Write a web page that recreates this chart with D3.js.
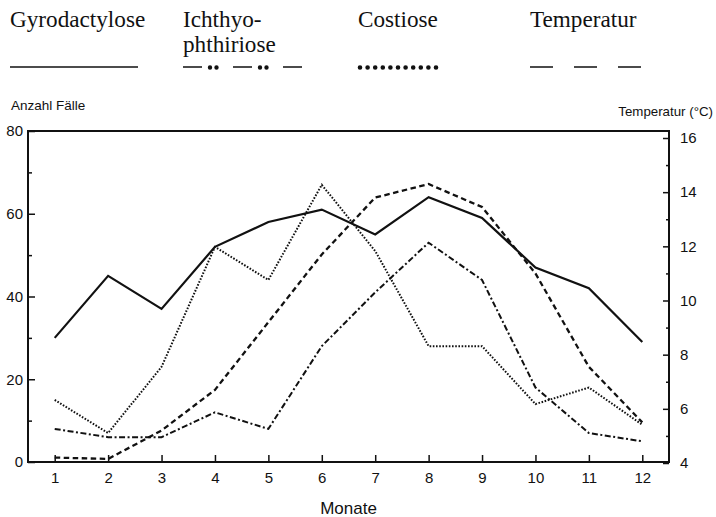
<!DOCTYPE html>
<html>
<head>
<meta charset="utf-8">
<script src="https://cdn.jsdelivr.net/npm/d3@7"></script>
<style>
  html, body { margin: 0; padding: 0; background: #fff; }
  svg { display: block; }
  .tick text { font-family: "Liberation Sans", Arial, sans-serif; font-size: 15px; fill: #111; }
</style>
</head>
<body>
<svg id="chart" width="716" height="517"></svg>
<script>
// ---- data ----
const months = [1, 2, 3, 4, 5, 6, 7, 8, 9, 10, 11, 12];
const gyrodactylose = [30, 45, 37, 52, 58, 61, 55, 64, 59, 47, 42, 29];
const ichthyophthiriose = [8, 6, 6, 12, 8, 28, 41, 53, 44, 18, 7, 5];
const costiose = [15, 7, 23, 52, 44, 67, 51, 28, 28, 14, 18, 9];
const temperatur = [4.2, 4.15, 5.2, 6.7, 9.2, 11.7, 13.8, 14.3, 13.45, 11.0, 7.55, 5.5];
const leftTicks = [0, 20, 40, 60, 80];
const leftMinor = [10, 30, 50, 70];
const rightTicks = [4, 6, 8, 10, 12, 14, 16];
const rightMinor = [5, 7, 9, 11, 13, 15];
const legendNames = [["Gyrodactylose"], ["Ichthyo-", "phthiriose"], ["Costiose"], ["Temperatur"]];

// ---- layout ----
const L = 28, R = 669, T = 131, B = 462;
const svg = d3.select("#chart");
const ink = "#111";

const x = d3.scaleLinear().domain([0.5, 12.5]).range([L, R]);
const yL = d3.scaleLinear().domain([0, 80]).range([B, T]);
const yR = d3.scaleLinear().domain([4, 16]).range([463, 138]);

// frame
svg.append("rect").attr("x", L).attr("y", T).attr("width", R - L).attr("height", B - T)
  .attr("fill", "none").attr("stroke", ink).attr("stroke-width", 2);

// axes
function styleAxis(g) {
  g.select(".domain").remove();
  g.selectAll(".tick line").attr("stroke", ink).attr("stroke-width", 1.5);
}
svg.append("g").attr("transform", `translate(${L},0)`)
  .call(d3.axisLeft(yL).tickValues(leftTicks).tickSize(-7).tickPadding(5))
  .call(styleAxis);
svg.append("g").attr("transform", `translate(${L},0)`)
  .call(d3.axisLeft(yL).tickValues(leftMinor).tickSize(-4).tickFormat(""))
  .call(styleAxis);
svg.append("g").attr("transform", `translate(${R},0)`)
  .call(d3.axisRight(yR).tickValues(rightTicks).tickSize(-6).tickPadding(11))
  .call(styleAxis);
svg.append("g").attr("transform", `translate(${R},0)`)
  .call(d3.axisRight(yR).tickValues(rightMinor).tickSize(-3).tickFormat(""))
  .call(styleAxis);
svg.append("g").attr("transform", `translate(0,${B})`)
  .call(d3.axisBottom(x).tickValues(months).tickSize(-7).tickPadding(10).tickFormat(d3.format("d")))
  .call(styleAxis);

// axis titles
const sans = "'Liberation Sans', Arial, sans-serif";
svg.append("text").attr("x", 11).attr("y", 110).attr("font-family", sans).attr("font-size", 13.5)
  .attr("fill", ink).text("Anzahl Fälle");
svg.append("text").attr("x", 713).attr("y", 116).attr("text-anchor", "end").attr("font-family", sans)
  .attr("font-size", 13.3).attr("fill", ink).text("Temperatur (°C)");
svg.append("text").attr("x", (L + R) / 2).attr("y", 514).attr("text-anchor", "middle")
  .attr("font-family", sans).attr("font-size", 17).attr("fill", ink).text("Monate");

// lines
const lineL = d3.line().x((d, i) => x(months[i])).y(d => yL(d));
const lineR = d3.line().x((d, i) => x(months[i])).y(d => yR(d));
const g = svg.append("g").attr("fill", "none").attr("stroke", ink);
g.append("path").datum(ichthyophthiriose).attr("d", lineL).attr("stroke-width", 2)
  .attr("stroke-dasharray", "6,2.5,2,2.5");
g.append("path").datum(costiose).attr("d", lineL).attr("stroke-width", 2)
  .attr("stroke-dasharray", "1.6,1.6");
g.append("path").datum(temperatur).attr("d", lineR).attr("stroke-width", 2.3)
  .attr("stroke-dasharray", "5.5,3.5");
g.append("path").datum(gyrodactylose).attr("d", lineL).attr("stroke-width", 2.2);

// legend
const serif = "'Liberation Serif', 'Times New Roman', serif";
const legX = [10, 183, 358, 530];
legendNames.forEach((lines, i) => {
  const t = svg.append("text").attr("x", legX[i]).attr("y", 27).attr("font-family", serif)
    .attr("font-size", 23.2).attr("fill", ink);
  lines.forEach((s, j) => t.append("tspan").attr("x", legX[i]).attr("dy", j ? 25 : 0).text(s));
});
const ly = 67;
const lg = svg.append("g").attr("fill", "none").attr("stroke", ink);
lg.append("line").attr("x1", 10).attr("x2", 138).attr("y1", ly).attr("y2", ly).attr("stroke-width", 1.6);
// Ichthyo: dashes + double dots
lg.append("line").attr("x1", 183).attr("x2", 303).attr("y1", ly).attr("y2", ly).attr("stroke-width", 1.6)
  .attr("stroke-dasharray", "19,31");
lg.append("line").attr("x1", 210).attr("x2", 303).attr("y1", ly + 0.5).attr("y2", ly + 0.5).attr("stroke-width", 4.4)
  .attr("stroke-linecap", "round").attr("stroke-dasharray", "0,6.5,0,43.5");
// Costiose dots
lg.append("line").attr("x1", 360).attr("x2", 436).attr("y1", ly + 0.5).attr("y2", ly + 0.5).attr("stroke-width", 4.6)
  .attr("stroke-linecap", "round").attr("stroke-dasharray", "0,7.6");
// Temperatur dashes
lg.append("line").attr("x1", 530).attr("x2", 641).attr("y1", ly).attr("y2", ly).attr("stroke-width", 1.6)
  .attr("stroke-dasharray", "23,21");
</script>
</body>
</html>
